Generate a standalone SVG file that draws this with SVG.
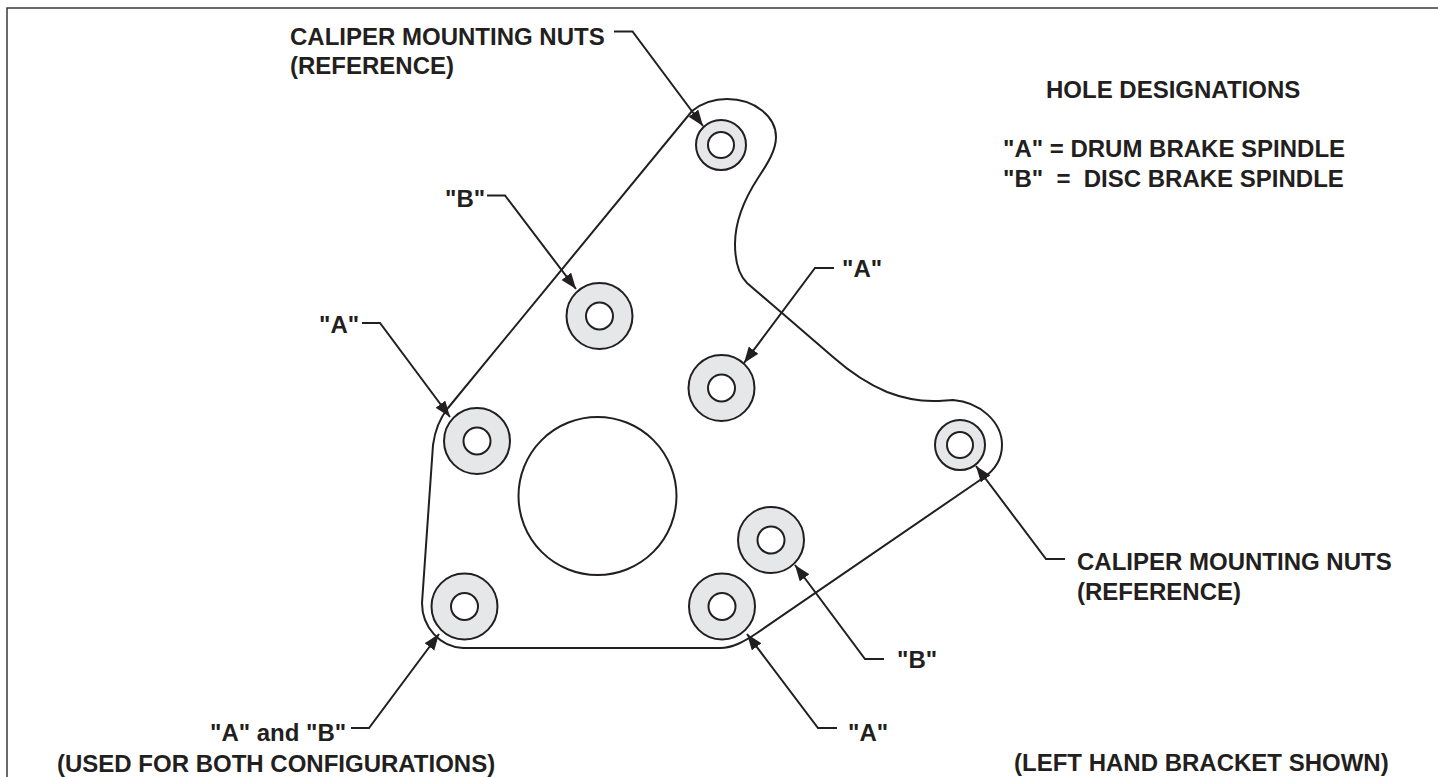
<svg xmlns="http://www.w3.org/2000/svg" width="1438" height="777" viewBox="0 0 1438 777">
<defs>
<marker id="arrow" markerUnits="userSpaceOnUse" markerWidth="18" markerHeight="14" refX="16" refY="6" orient="auto"><path d="M0 0L16 6L0 12Z" fill="#231f20"/></marker>
</defs>
<style>
.l{fill:none;stroke:#231f20;stroke-width:2}
.w{fill:#e6e7e8;stroke:#231f20;stroke-width:2}
.h{fill:#fff;stroke:#231f20;stroke-width:2}
text{font-family:"Liberation Sans",Arial,sans-serif;font-weight:700;font-size:24px;fill:#231f20}
.c{marker-end:url(#arrow)}
</style>
<rect width="1438" height="777" fill="#fff"/>
<path id="frame" d="M7 777V8H1438" fill="none" stroke="#3a3a3a" stroke-width="1.500"/>
<g id="bracket"><path class="l" d="M448 408L692 111C702 103 714 99 727 99C755 99 776 117 776 137C776 150 768 163 758 178C745 198 735 220 735 244C735 260 739 275 747 283L782 313L833 357C850 372 868 384 887 392C905 399 920 401 933 401C942 401 948 400 953 400C980 402 1002 422 1002 445C1002 458 995 470 983 478L757 633C745 641 733 648 720 648L463 648C440 647 422 627 422 603L433 445C435 430 440 418 448 408Z"/></g>
<g id="center-bore"><circle class="h" cx="597.500" cy="496" r="79"/></g>
<g id="hole-nut-top"><circle class="w" cx="721" cy="145" r="25"/><circle class="h" cx="721" cy="145" r="13"/></g>
<g id="hole-nut-right"><circle class="w" cx="960" cy="445" r="25"/><circle class="h" cx="960" cy="445" r="13"/></g>
<g id="hole-b-top"><circle class="w" cx="599.500" cy="316" r="33"/><circle class="h" cx="599.500" cy="316" r="13.500"/></g>
<g id="hole-a-mid"><circle class="w" cx="721.500" cy="388" r="33"/><circle class="h" cx="721.500" cy="388" r="13.500"/></g>
<g id="hole-a-left"><circle class="w" cx="477" cy="441" r="33"/><circle class="h" cx="477" cy="441" r="13.500"/></g>
<g id="hole-b-low"><circle class="w" cx="771" cy="540" r="33"/><circle class="h" cx="771" cy="540" r="13.500"/></g>
<g id="hole-ab"><circle class="w" cx="464.500" cy="606.500" r="33"/><circle class="h" cx="464.500" cy="606.500" r="13.500"/></g>
<g id="hole-a-low"><circle class="w" cx="722" cy="606.500" r="33"/><circle class="h" cx="722" cy="606.500" r="13.500"/></g>
<g id="connectors">
<path class="l c" d="M614 31.500H632.500L703 126"/>
<path class="l c" d="M487 195.500H505L576 289"/>
<path class="l c" d="M362 323H380L450 417"/>
<path class="l c" d="M834 268H815L744 363"/>
<path class="l c" d="M1065 559H1046L976 466"/>
<path class="l c" d="M884 659H865L795 565"/>
<path class="l c" d="M351 728H369L439 634"/>
<path class="l c" d="M837 728H818L747 634"/>
</g>
<g id="labels">
<text x="290" y="45">CALIPER MOUNTING NUTS</text>
<text x="290" y="74">(REFERENCE)</text>
<text x="445" y="207">"B"</text>
<text x="319" y="333">"A"</text>
<text x="842" y="277">"A"</text>
<text x="1077" y="570">CALIPER MOUNTING NUTS</text>
<text x="1077" y="600">(REFERENCE)</text>
<text x="897" y="668">"B"</text>
<text x="848" y="741">"A"</text>
<text x="210" y="741">"A" and "B"</text>
<text x="57" y="772">(USED FOR BOTH CONFIGURATIONS)</text>
<text x="1014" y="771">(LEFT HAND BRACKET SHOWN)</text>
<text x="1046" y="98">HOLE DESIGNATIONS</text>
<text x="1003" y="157">"A" = DRUM BRAKE SPINDLE</text>
<text x="1003" y="187" xml:space="preserve">"B"  =  DISC BRAKE SPINDLE</text>
</g>
</svg>
